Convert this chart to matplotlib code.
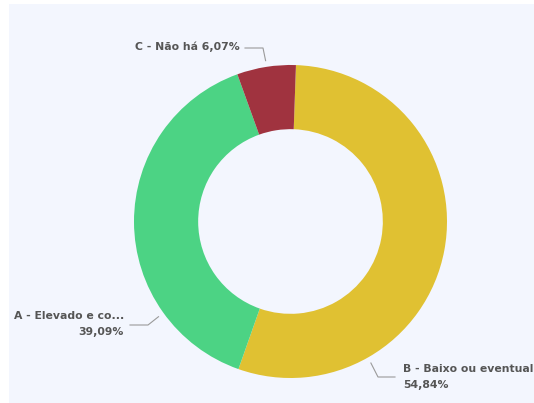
import numpy as np
import matplotlib.pyplot as plt
from matplotlib.patches import Rectangle

# data (drawn in the order of the reference: B, A, C clockwise from 12h)
categories = ["B - Baixo ou eventual", "A - Elevado e co...", "C - Não há"]
values = [54.84, 39.09, 6.07]
colors = ["#E0C132", "#4CD384", "#A0333F"]

W, H = 534, 403
cx, cy, R = 290.5, 221.5, 156.5   # donut centre / radius in pixels

fig = plt.figure(figsize=(W / 100, H / 100), dpi=100)
fig.patch.set_facecolor("white")
fig.patches.append(Rectangle((9 / W, 0), 1, (H - 4) / H, transform=fig.transFigure,
                             facecolor="#F3F6FE", edgecolor="none", zorder=-5))

ax = fig.add_axes([0, 0, 1, 1])
ax.set_facecolor("none")

ax.pie(values, colors=colors, startangle=88, counterclock=False, radius=1,
       wedgeprops=dict(width=0.41, edgecolor="none"))

ax.set_aspect("auto")
ax.set_xlim(-cx / R, (W - cx) / R)
ax.set_ylim(-(H - cy) / R, cy / R)
ax.axis("off")

def px(x, y):
    return (x - cx) / R, (cy - y) / R

txt = dict(fontsize=7.8, fontweight="bold", color="#555555", family="DejaVu Sans")
line = dict(color="#9A9A9A", lw=0.8)

# leader lines: start on the ring (angle), elbow, end
leaders = [
    (-60.4, px(378, 377), px(395, 377)),    # B
    (-144.2, px(148, 325), px(130, 325)),   # A
    (98.8, px(263, 48), px(245, 48)),       # C
]
for ang, elbow, end in leaders:
    a = np.radians(ang)
    p0 = (1.04 * np.cos(a), 1.04 * np.sin(a))
    ax.plot([p0[0], elbow[0], end[0]], [p0[1], elbow[1], end[1]], **line)

pcts = [f"{v:.2f}%".replace(".", ",") for v in values]

x, y = px(403, 369)
ax.text(x, y, categories[0], ha="left", va="center", **txt)
x, y = px(403, 385)
ax.text(x, y, pcts[0], ha="left", va="center", **txt)

x, y = px(124, 316)
ax.text(x, y, categories[1], ha="right", va="center", **txt)
x, y = px(124, 332)
ax.text(x, y, pcts[1], ha="right", va="center", **txt)

x, y = px(240, 47)
ax.text(x, y, f"{categories[2]} {pcts[2]}", ha="right", va="center", **txt)

fig.savefig("out.png", dpi=100)
